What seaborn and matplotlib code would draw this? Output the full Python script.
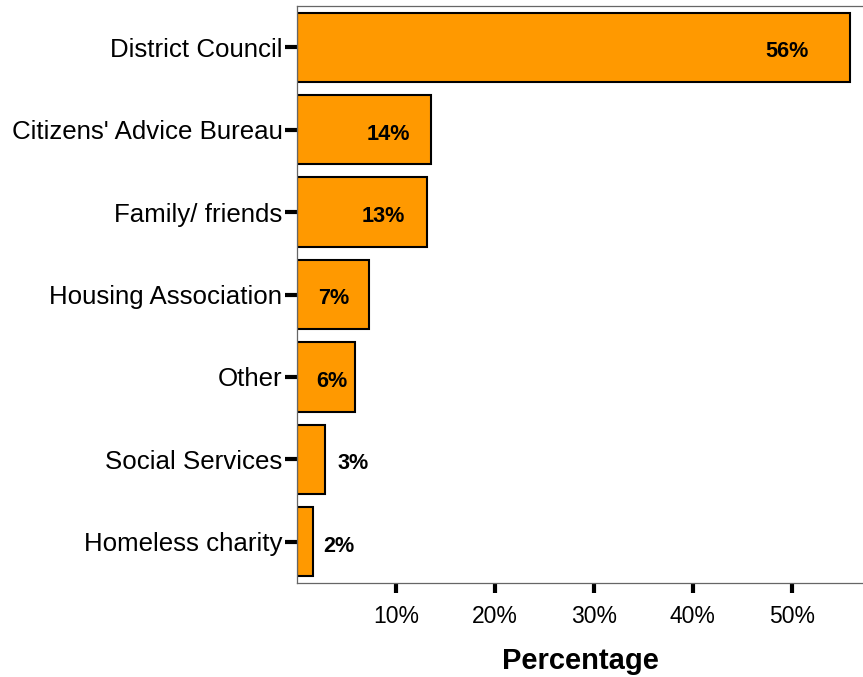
import matplotlib
matplotlib.use("Agg")
import matplotlib.pyplot as plt
import seaborn as sns
import pandas as pd

sources = ["District Council", "Citizens' Advice Bureau", "Family/ friends",
           "Housing Association", "Other", "Social Services", "Homeless charity"]
percent = [55.9, 13.5, 13.1, 7.3, 5.9, 2.8, 1.6]
x_ticks = [10, 20, 30, 40, 50]

# horizontal offset (pixels) of each value label from its bar end, and alignment
label_dx = [-41, -20, -22, -20, -8, 13, 10]
label_ha = ["right", "right", "right", "right", "right", "left", "left"]

sns.set_theme(style="white")
plt.rcParams["font.family"] = ["Liberation Sans", "DejaVu Sans"]
plt.rcParams["text.color"] = "black"
plt.rcParams["xtick.labelcolor"] = "black"
plt.rcParams["ytick.labelcolor"] = "black"
plt.rcParams["axes.labelcolor"] = "black"

df = pd.DataFrame({"source": sources, "percent": percent})

fig = plt.figure(figsize=(8.63, 6.77), dpi=100)
ax = fig.add_axes([297 / 863, 1 - 583 / 677, 1 - 297 / 863, (583 - 6) / 677])

sns.barplot(data=df, x="percent", y="source", orient="h", color="#FF9900",
            saturation=1, width=0.84, edgecolor="black", linewidth=1.5, ax=ax)

for i, v in enumerate(percent):
    ax.annotate(f"{round(v)}%", xy=(v, i), xytext=(label_dx[i] * 0.72, -3.2),
                textcoords="offset points", ha=label_ha[i], va="center",
                fontsize=15.6, fontweight="bold", color="black")

ax.set_xlim(0, 57.2)
ax.set_ylim(6.5, -0.5)
ax.set_xticks(x_ticks)
ax.set_xticklabels([f"{t}%" for t in x_ticks])
ax.set_xlabel("Percentage", fontsize=21, fontweight="bold", labelpad=14)
ax.set_ylabel("")

ax.tick_params(axis="x", which="major", direction="out", length=7.5, width=3,
               color="black", labelsize=16.5, pad=8, bottom=True)
ax.tick_params(axis="y", which="major", direction="out", length=8.5, width=3,
               color="black", labelsize=18.6, pad=2, left=True)

for side in ["top", "left", "bottom"]:
    ax.spines[side].set_visible(True)
    ax.spines[side].set_color("#666666")
    ax.spines[side].set_linewidth(0.9)
ax.spines["right"].set_visible(False)

fig.savefig("out.png", dpi=100)
